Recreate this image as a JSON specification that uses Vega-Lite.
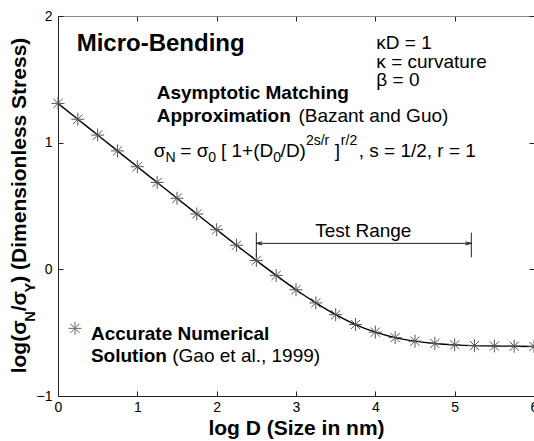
{
  "$schema": "https://vega.github.io/schema/vega-lite/v6.json",
  "width": 476,
  "height": 380,
  "autosize": {"type": "none"},
  "padding": {"left": 58, "top": 16, "right": 0, "bottom": 45},
  "background": "white",
  "config": {
    "view": {"stroke": null},
    "font": "Liberation Sans",
    "axis": {
      "grid": false,
      "tickSize": -5,
      "tickColor": "#222",
      "domainColor": "#222",
      "labelFont": "Liberation Sans",
      "labelFontSize": 14,
      "labelColor": "black",
      "titleFont": "Liberation Sans",
      "titleFontSize": 21,
      "titleFontWeight": "bold",
      "titleColor": "black"
    }
  },
  "datasets": {
    "pts": [
      {"x": 0, "y": 1.31}, {"x": 0.25, "y": 1.185}, {"x": 0.5, "y": 1.06}, {"x": 0.75, "y": 0.935},
      {"x": 1, "y": 0.81}, {"x": 1.25, "y": 0.686}, {"x": 1.5, "y": 0.561}, {"x": 1.75, "y": 0.437},
      {"x": 2, "y": 0.313}, {"x": 2.25, "y": 0.19}, {"x": 2.5, "y": 0.07}, {"x": 2.75, "y": -0.048},
      {"x": 3, "y": -0.161}, {"x": 3.25, "y": -0.265}, {"x": 3.5, "y": -0.358}, {"x": 3.75, "y": -0.436},
      {"x": 4, "y": -0.496}, {"x": 4.25, "y": -0.539}, {"x": 4.5, "y": -0.567}, {"x": 4.75, "y": -0.585},
      {"x": 5, "y": -0.596}, {"x": 5.25, "y": -0.602}, {"x": 5.5, "y": -0.605}, {"x": 5.75, "y": -0.607},
      {"x": 6, "y": -0.609}
    ],
    "seg": [
      {"x": 2.5, "x2": 2.5, "y": 0.095, "y2": 0.29},
      {"x": 5.21, "x2": 5.21, "y": 0.095, "y2": 0.29},
      {"x": 2.5, "x2": 5.21, "y": 0.205, "y2": 0.205}
    ],
    "arrows": [
      {"side": "L", "x": 2.5, "y": 0.205},
      {"side": "R", "x": 5.21, "y": 0.205}
    ],
    "leg": [{"x": 0.214, "y": -0.466}],
    "txt": [
      {"g": "big", "x": 0.235, "y": 1.725, "t": "Micro-Bending"},
      {"g": "reg", "x": 4.013, "y": 1.736, "t": "κD = 1"},
      {"g": "reg", "x": 4.013, "y": 1.586, "t": "κ = curvature"},
      {"g": "reg", "x": 4.013, "y": 1.444, "t": "β = 0"},
      {"g": "bold", "x": 1.245, "y": 1.342, "t": "Asymptotic Matching"},
      {"g": "bold", "x": 1.245, "y": 1.16, "t": "Approximation"},
      {"g": "reg", "x": 3.03, "y": 1.16, "t": "(Bazant and Guo)"},
      {"g": "reg", "x": 1.2075, "y": 0.884, "t": "σ"},
      {"g": "small", "x": 1.3535, "y": 0.845, "t": "N"},
      {"g": "reg", "x": 1.542, "y": 0.884, "t": "= σ"},
      {"g": "small", "x": 1.893, "y": 0.845, "t": "0"},
      {"g": "reg", "x": 2.054, "y": 0.884, "t": "[ 1+(D"},
      {"g": "small", "x": 2.712, "y": 0.845, "t": "0"},
      {"g": "reg", "x": 2.806, "y": 0.884, "t": "/D)"},
      {"g": "small", "x": 3.125, "y": 0.979, "t": "2s/r"},
      {"g": "reg", "x": 3.49, "y": 0.884, "t": "]"},
      {"g": "small", "x": 3.565, "y": 0.979, "t": "r/2"},
      {"g": "reg", "x": 3.79, "y": 0.884, "t": ", s = 1/2, r = 1"},
      {"g": "mid", "x": 3.849, "y": 0.253, "t": "Test Range"},
      {"g": "bold", "x": 0.415, "y": -0.555, "t": "Accurate Numerical"},
      {"g": "bold", "x": 0.415, "y": -0.735, "t": "Solution"},
      {"g": "reg", "x": 1.44, "y": -0.735, "t": "(Gao et al., 1999)"},
      {"g": "yt", "x": -0.4025, "y": -0.821, "t": "log(σ"},
      {"g": "ys", "x": -0.289, "y": -0.414, "t": "N"},
      {"g": "yt", "x": -0.4025, "y": -0.331, "t": "/σ"},
      {"g": "ys", "x": -0.289, "y": -0.182, "t": "Y"},
      {"g": "yt", "x": -0.4025, "y": -0.106, "t": ") (Dimensionless Stress)"}
    ]
  },
  "layer": [
    {
      "data": {"name": "pts"},
      "mark": {"type": "line", "color": "black", "strokeWidth": 1.4, "interpolate": "monotone"},
      "encoding": {
        "x": {"field": "x", "type": "quantitative",
              "scale": {"domain": [0, 6], "nice": false, "zero": false},
              "axis": {"orient": "bottom", "values": [0, 1, 2, 3, 4, 5, 6], "title": "log D (Size in nm)", "labelPadding": 9, "titlePadding": 3, "labelFlush": false}},
        "y": {"field": "y", "type": "quantitative",
              "scale": {"domain": [-1, 2], "nice": false, "zero": false},
              "axis": {"orient": "left", "values": [-1, 0, 1, 2], "title": null, "labelPadding": 11, "labelFlush": false}}
      }
    },
    {
      "data": {"name": "pts"},
      "mark": {"type": "point", "opacity": 0},
      "encoding": {
        "x": {"field": "x", "type": "quantitative",
              "axis": {"orient": "top", "values": [0, 1, 2, 3, 4, 5, 6], "labels": false, "title": null, "domainColor": "#888"}},
        "y": {"field": "y", "type": "quantitative",
              "axis": {"orient": "right", "values": [-1, 0, 1, 2], "labels": false, "title": null, "domainColor": "#888"}}
      }
    },
    {
      "data": {"name": "pts"},
      "mark": {"type": "point", "shape": "M-1,0L1,0M0,-1L0,1M-0.71,-0.71L0.71,0.71M-0.71,0.71L0.71,-0.71", "filled": false, "stroke": "#555", "strokeWidth": 1, "size": 169, "opacity": 1},
      "encoding": {
        "x": {"field": "x", "type": "quantitative", "axis": null},
        "y": {"field": "y", "type": "quantitative", "axis": null}
      }
    },
    {
      "data": {"name": "leg"},
      "mark": {"type": "point", "shape": "M-1,0L1,0M0,-1L0,1M-0.71,-0.71L0.71,0.71M-0.71,0.71L0.71,-0.71", "filled": false, "stroke": "#666", "strokeWidth": 1, "size": 169, "opacity": 1},
      "encoding": {
        "x": {"field": "x", "type": "quantitative", "axis": null},
        "y": {"field": "y", "type": "quantitative", "axis": null}
      }
    },
    {
      "data": {"name": "seg"},
      "mark": {"type": "rule", "color": "#222", "strokeWidth": 1},
      "encoding": {
        "x": {"field": "x", "type": "quantitative", "axis": null},
        "x2": {"field": "x2"},
        "y": {"field": "y", "type": "quantitative", "axis": null},
        "y2": {"field": "y2"}
      }
    },
    {
      "data": {"name": "arrows"},
      "transform": [{"filter": "datum.side === 'L'"}],
      "mark": {"type": "point", "shape": "M0,0L1.7,-0.45M0,0L1.7,0.45", "filled": false, "stroke": "#222", "strokeWidth": 1, "size": 49, "opacity": 1},
      "encoding": {
        "x": {"field": "x", "type": "quantitative", "axis": null},
        "y": {"field": "y", "type": "quantitative", "axis": null}
      }
    },
    {
      "data": {"name": "arrows"},
      "transform": [{"filter": "datum.side === 'R'"}],
      "mark": {"type": "point", "shape": "M0,0L-1.7,-0.45M0,0L-1.7,0.45", "filled": false, "stroke": "#222", "strokeWidth": 1, "size": 49, "opacity": 1},
      "encoding": {
        "x": {"field": "x", "type": "quantitative", "axis": null},
        "y": {"field": "y", "type": "quantitative", "axis": null}
      }
    },
    {
      "data": {"name": "txt"},
      "transform": [{"filter": "datum.g === 'big'"}],
      "mark": {"type": "text", "align": "left", "baseline": "alphabetic", "font": "Liberation Sans", "fontSize": 24, "fontWeight": "bold", "color": "black"},
      "encoding": {
        "x": {"field": "x", "type": "quantitative", "axis": null},
        "y": {"field": "y", "type": "quantitative", "axis": null},
        "text": {"field": "t"}
      }
    },
    {
      "data": {"name": "txt"},
      "transform": [{"filter": "datum.g === 'reg'"}],
      "mark": {"type": "text", "align": "left", "baseline": "alphabetic", "font": "Liberation Sans", "fontSize": 19, "color": "black"},
      "encoding": {
        "x": {"field": "x", "type": "quantitative", "axis": null},
        "y": {"field": "y", "type": "quantitative", "axis": null},
        "text": {"field": "t"}
      }
    },
    {
      "data": {"name": "txt"},
      "transform": [{"filter": "datum.g === 'bold'"}],
      "mark": {"type": "text", "align": "left", "baseline": "alphabetic", "font": "Liberation Sans", "fontSize": 19, "fontWeight": "bold", "color": "black"},
      "encoding": {
        "x": {"field": "x", "type": "quantitative", "axis": null},
        "y": {"field": "y", "type": "quantitative", "axis": null},
        "text": {"field": "t"}
      }
    },
    {
      "data": {"name": "txt"},
      "transform": [{"filter": "datum.g === 'small'"}],
      "mark": {"type": "text", "align": "left", "baseline": "alphabetic", "font": "Liberation Sans", "fontSize": 14, "color": "black"},
      "encoding": {
        "x": {"field": "x", "type": "quantitative", "axis": null},
        "y": {"field": "y", "type": "quantitative", "axis": null},
        "text": {"field": "t"}
      }
    },
    {
      "data": {"name": "txt"},
      "transform": [{"filter": "datum.g === 'mid'"}],
      "mark": {"type": "text", "align": "center", "baseline": "alphabetic", "font": "Liberation Sans", "fontSize": 19, "color": "black"},
      "encoding": {
        "x": {"field": "x", "type": "quantitative", "axis": null},
        "y": {"field": "y", "type": "quantitative", "axis": null},
        "text": {"field": "t"}
      }
    },
    {
      "data": {"name": "txt"},
      "transform": [{"filter": "datum.g === 'yt'"}],
      "mark": {"type": "text", "align": "left", "baseline": "alphabetic", "angle": 270, "font": "Liberation Sans", "fontSize": 21, "fontWeight": "bold", "color": "black"},
      "encoding": {
        "x": {"field": "x", "type": "quantitative", "axis": null},
        "y": {"field": "y", "type": "quantitative", "axis": null},
        "text": {"field": "t"}
      }
    },
    {
      "data": {"name": "txt"},
      "transform": [{"filter": "datum.g === 'ys'"}],
      "mark": {"type": "text", "align": "left", "baseline": "alphabetic", "angle": 270, "font": "Liberation Sans", "fontSize": 14.5, "fontWeight": "bold", "color": "black"},
      "encoding": {
        "x": {"field": "x", "type": "quantitative", "axis": null},
        "y": {"field": "y", "type": "quantitative", "axis": null},
        "text": {"field": "t"}
      }
    }
  ],
  "resolve": {"axis": {"x": "independent", "y": "independent"}}
}
